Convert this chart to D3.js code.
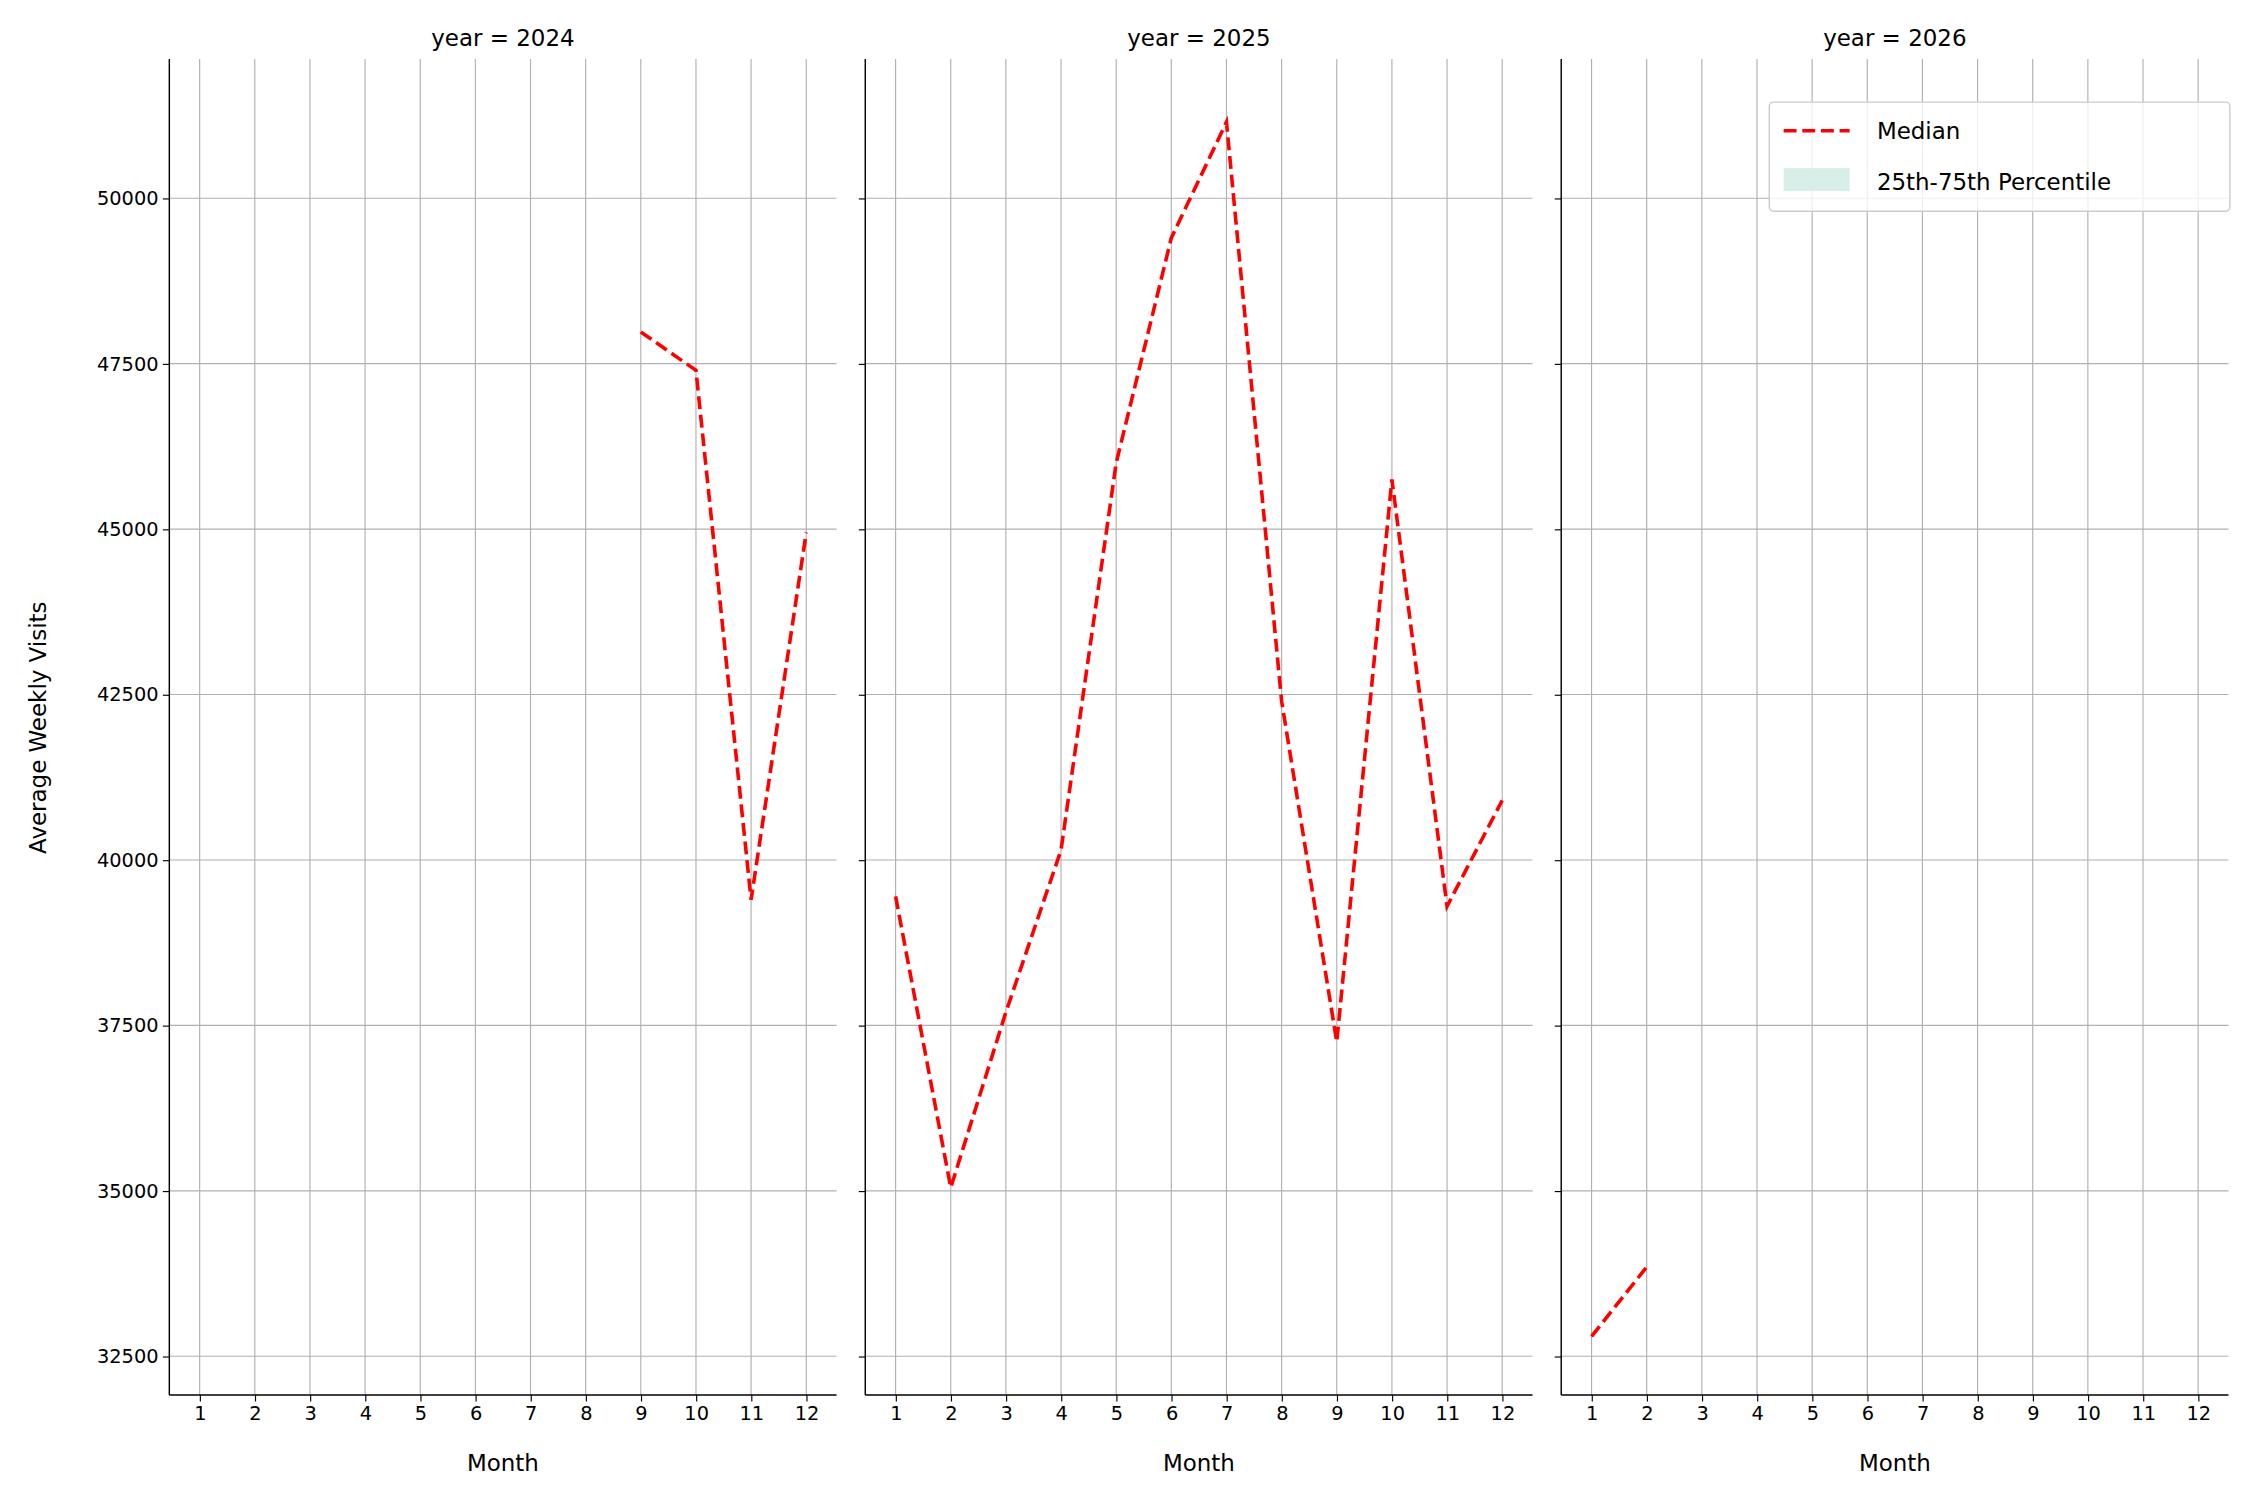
<!DOCTYPE html>
<html>
<head>
<script src="https://cdnjs.cloudflare.com/ajax/libs/d3/7.8.5/d3.min.js"></script>
<style>body{margin:0;background:#fff}</style>
</head>
<body>
<div id="vis"></div>
<script>
const years = [2024, 2025, 2026];
const months = [1,2,3,4,5,6,7,8,9,10,11,12];
const yTicks = [32500, 35000, 37500, 40000, 42500, 45000, 47500, 50000];
const median2024 = [[9,47980],[10,47400],[11,39400],[12,44950]];
const median2025 = [[1,39450],[2,35050],[3,37700],[4,40150],[5,46000],[6,49400],[7,51150],[8,42400],[9,37250],[10,45750],[11,39300],[12,40900]];
const median2026 = [[1,32800],[2,33850]];
const series = [median2024, median2025, median2026];

const svg = d3.select("#vis").append("svg")
  .attr("width", 2250).attr("height", 1500)
  .attr("viewBox", [0, 0, 1568, 1045])
  .style("font-family", "DejaVu Sans");

const panelLeft = [118, 603, 1088], panelW = 465, plotTop = 41, plotBottom = 972;
const y = d3.scaleLinear().domain([31915, 52103]).range([plotBottom, plotTop]);

years.forEach((yr, i) => {
  const x = d3.scaleLinear().domain([0.45, 12.55]).range([panelLeft[i], panelLeft[i] + panelW]);
  const g = svg.append("g");
  // grid
  g.selectAll("line.vg").data(months).join("line")
    .attr("x1", d => x(d)).attr("x2", d => x(d)).attr("y1", plotTop).attr("y2", plotBottom)
    .attr("stroke", "#b0b0b0").attr("stroke-width", 0.8);
  g.selectAll("line.hg").data(yTicks).join("line")
    .attr("x1", x.range()[0]).attr("x2", x.range()[1]).attr("y1", d => y(d)).attr("y2", d => y(d))
    .attr("stroke", "#b0b0b0").attr("stroke-width", 0.8);
  // axes
  const xa = g.append("g").attr("transform", `translate(0,${plotBottom})`)
    .call(d3.axisBottom(x).tickValues(months).tickSize(4.5).tickPadding(3));
  const ya = g.append("g").attr("transform", `translate(${panelLeft[i]},0)`)
    .call(d3.axisLeft(y).tickValues(yTicks).tickSize(4.5).tickPadding(3)
      .tickFormat(i === 0 ? d3.format("d") : () => ""));
  [xa, ya].forEach(a => {
    a.select(".domain").remove();
    a.selectAll("text").attr("font-size", 13.5).attr("font-family", "DejaVu Sans").attr("fill", "#000");
    a.selectAll("line").attr("stroke", "#000").attr("stroke-width", 0.8);
  });
  g.append("line").attr("x1", x.range()[0]).attr("x2", x.range()[1]).attr("y1", plotBottom).attr("y2", plotBottom).attr("stroke", "#000");
  g.append("line").attr("x1", panelLeft[i]).attr("x2", panelLeft[i]).attr("y1", plotTop).attr("y2", plotBottom).attr("stroke", "#000");
  g.append("text").attr("x", panelLeft[i] + panelW / 2).attr("y", 32).attr("text-anchor", "middle")
    .attr("font-size", 16).text(`year = ${yr}`);
  g.append("text").attr("x", panelLeft[i] + panelW / 2).attr("y", 1025).attr("text-anchor", "middle")
    .attr("font-size", 16).text("Month");
  g.append("path").datum(series[i])
    .attr("d", d3.line().x(d => x(d[0])).y(d => y(d[1])))
    .attr("fill", "none").attr("stroke", "red").attr("stroke-width", 2.5)
    .attr("stroke-dasharray", "9,4");
});

svg.append("text").attr("transform", "translate(32,507) rotate(-90)").attr("text-anchor", "middle")
  .attr("font-size", 16).text("Average Weekly Visits");

// legend
const lg = svg.append("g").attr("transform", "translate(1233,71)");
lg.append("rect").attr("width", 321).attr("height", 76).attr("rx", 3)
  .attr("fill", "#fff").attr("fill-opacity", 0.8).attr("stroke", "#ccc");
lg.append("line").attr("x1", 10).attr("x2", 56).attr("y1", 20).attr("y2", 20)
  .attr("stroke", "red").attr("stroke-width", 2.5).attr("stroke-dasharray", "9,4");
lg.append("text").attr("x", 75).attr("y", 26).attr("font-size", 16).text("Median");
lg.append("rect").attr("x", 10).attr("y", 46).attr("width", 46).attr("height", 16)
  .attr("fill", "#d8eee8");
lg.append("text").attr("x", 75).attr("y", 61).attr("font-size", 16).text("25th-75th Percentile");
</script>
</body>
</html>
